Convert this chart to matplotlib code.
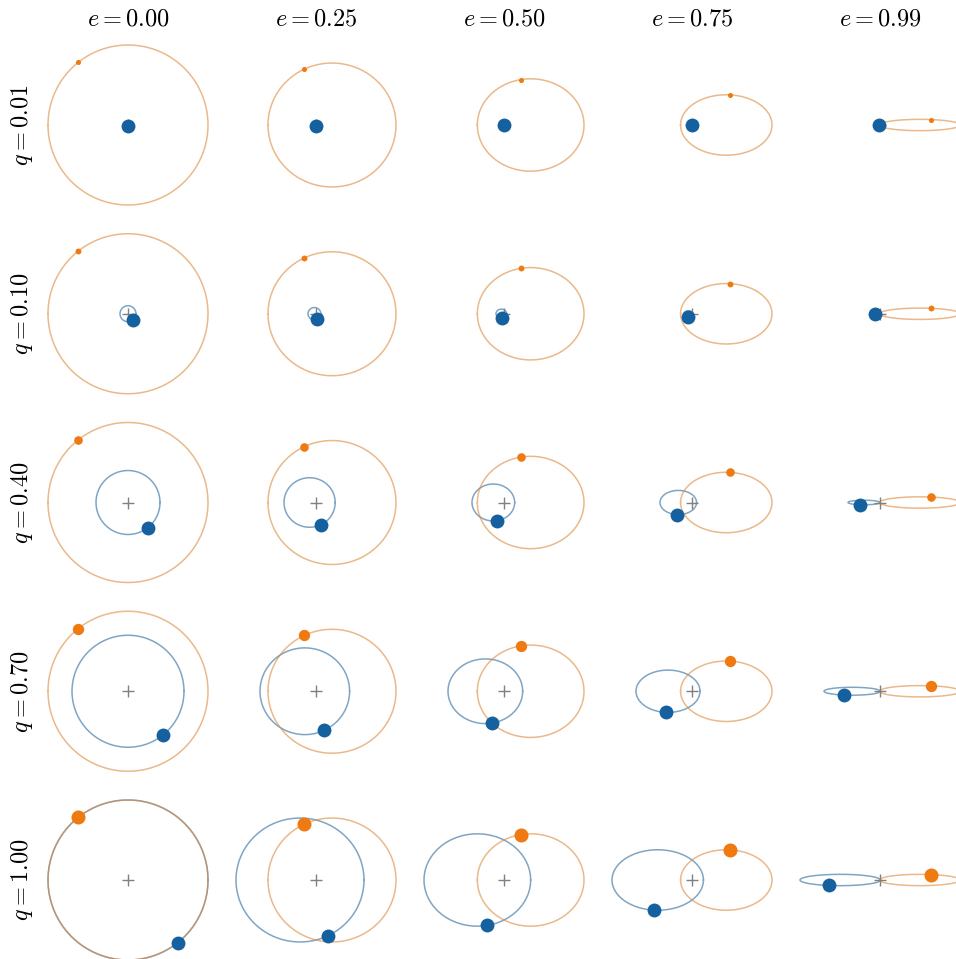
import numpy as np
import matplotlib.pyplot as plt

plt.rcParams['mathtext.fontset'] = 'cm'

# eccentricities (columns) and mass ratios (rows)
eccs = [0.00, 0.25, 0.50, 0.75, 0.99]
qs = [0.01, 0.10, 0.40, 0.70, 1.00]
mean_anomaly = 0.9  # snapshot phase, radians after periapsis

col_labels = [r'$e = %.2f$' % e for e in eccs]
row_labels = [r'$q = %.2f$' % q for q in qs]

blue = '#15609f'
orange = '#ef7a12'
blue_line = '#2a6a9e'
orange_line = '#dd8a3c'

W, H = 956, 959
fig = plt.figure(figsize=(W / 100, H / 100), dpi=100)

col_x = np.linspace(128, 880, 5)   # pixel centres
row_y = np.linspace(125, 880, 5)
half = 94       # half-size of each panel in pixels
apo_px = 80     # secondary apoapsis drawn at this radius


def kepler_E(M, e):
    E = M if e < 0.8 else np.pi
    for _ in range(50):
        E = E - (E - e * np.sin(E) - M) / (1 - e * np.cos(E))
    return E


def rel_orbit(E, e):
    # relative orbit with a = 1, periapsis pointing to -x
    x = np.cos(E) - e
    y = np.sqrt(1 - e**2) * np.sin(E)
    return -x, y


Egrid = np.linspace(0, 2 * np.pi, 600)

for i, q in enumerate(qs):
    for j, e in enumerate(eccs):
        ax = fig.add_axes([(col_x[j] - half) / W, 1 - (row_y[i] + half) / H,
                           2 * half / W, 2 * half / H])
        ax.axis('off')

        a2 = 1 / (1 + q)
        a1 = q / (1 + q)
        R = a2 * (1 + e) * half / apo_px
        ax.set_xlim(-R, R)
        ax.set_ylim(-R, R)

        ox, oy = rel_orbit(Egrid, e)
        if q > 0.05:
            ax.plot(-a1 * ox, -a1 * oy, color=blue_line, alpha=0.6, lw=1.1, zorder=1)
        ax.plot(a2 * ox, a2 * oy, color=orange_line, alpha=0.6, lw=1.1, zorder=1)

        ax.plot(0, 0, marker='+', color='#808080', ms=8, mew=1.0, zorder=2)

        px, py = rel_orbit(kepler_E(mean_anomaly, e), e)
        ms2 = 3.6 + 6.5 * q
        ax.plot(a2 * px, a2 * py, 'o', color=orange, ms=ms2, mec='none', zorder=3)
        ax.plot(-a1 * px, -a1 * py, 'o', color=blue, ms=10, mec='none', zorder=4)

for j, lab in enumerate(col_labels):
    fig.text(col_x[j] / W, 1 - 19 / H, lab, ha='center', va='center', fontsize=17.5)

for i, lab in enumerate(row_labels):
    fig.text(22 / W, 1 - row_y[i] / H, lab, ha='center', va='center',
             rotation=90, fontsize=17.5)

fig.savefig('out.png', dpi=100)
